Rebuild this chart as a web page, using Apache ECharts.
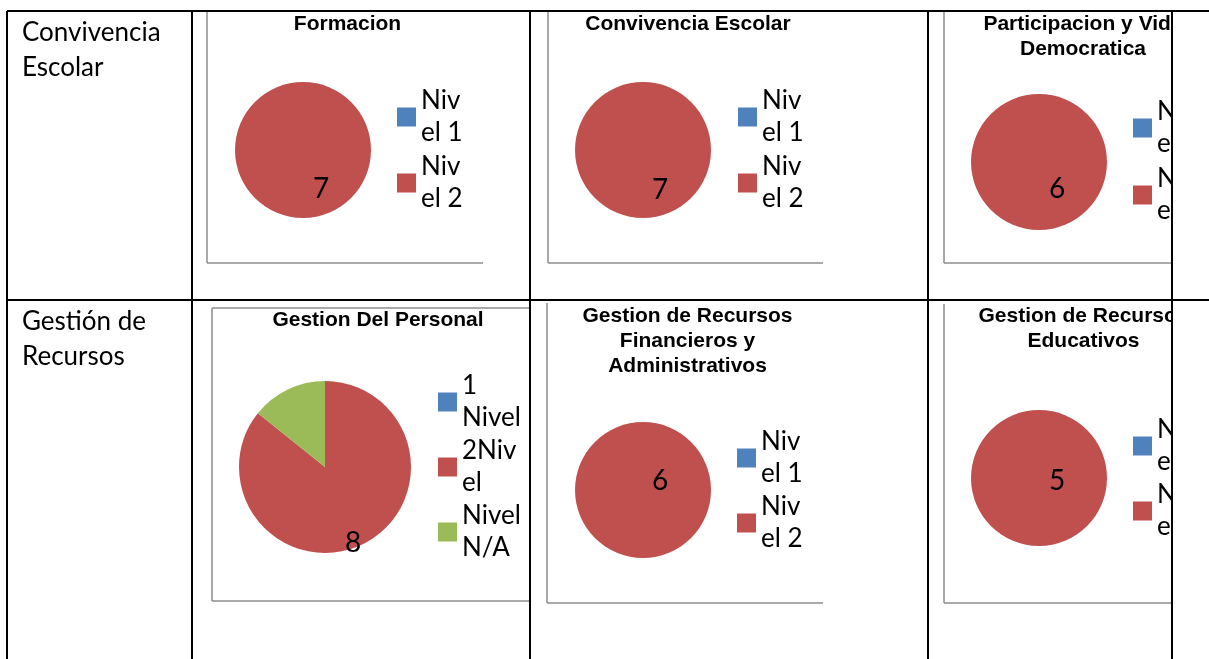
<!DOCTYPE html>
<html><head><meta charset="utf-8">
<script src="https://cdn.jsdelivr.net/npm/echarts@6/dist/echarts.min.js"></script>
<style>html,body{margin:0;padding:0;background:#fff;overflow:hidden;} #c{width:1209px;height:659px;}</style>
</head><body><div id="c"></div>
<script>
// ---- data ----
const rowLabels = ['Convivencia\nEscolar', 'Gestión de\nRecursos'];
const chartTitles = ['Formacion', 'Convivencia Escolar', 'Participacion y Vida\nDemocratica',
  'Gestion Del Personal', 'Gestion de Recursos\nFinancieros y\nAdministrativos', 'Gestion de Recursos\nEducativos'];
const levelCats = ['Nivel 1', 'Nivel 2'];
const levelCatsWrapped = ['Niv\nel 1', 'Niv\nel 2'];
const personalCats = ['1 Nivel', '2Nivel', 'Nivel N/A'];
const personalCatsWrapped = ['1\nNivel', '2Niv\nel', 'Nivel\nN/A'];
const formacionValues = [0, 7];
const convivenciaValues = [0, 7];
const participacionValues = [0, 6];
const personalValues = [0, 8, 1.33];
const financierosValues = [0, 6];
const educativosValues = [0, 5];
const sliceColors = ['#4F81BD', '#C0504D', '#9BBB59'];

// ---- layout (positions / styles only) ----
const panels = [
  {cats: levelCats, wrapped: levelCatsWrapped, vals: formacionValues, center: [303, 150], r: 68, titleX: 347.5, titleY: 12, legX: 397, legY: 85, legGap: 2, lab: [18, 39]},
  {cats: levelCats, wrapped: levelCatsWrapped, vals: convivenciaValues, center: [643, 150], r: 68, titleX: 688, titleY: 12, legX: 738, legY: 85, legGap: 2, lab: [17, 40]},
  {cats: levelCats, wrapped: levelCatsWrapped, vals: participacionValues, center: [1039, 162], r: 68, titleX: 1083, titleY: 12, legX: 1133, legY: 96, legGap: 3, lab: [18, 27]},
  {cats: personalCats, wrapped: personalCatsWrapped, vals: personalValues, center: [325, 467], r: 86, titleX: 378, titleY: 307.5, legX: 438, legY: 370, legGap: 1, lab: [28, 76]},
  {cats: levelCats, wrapped: levelCatsWrapped, vals: financierosValues, center: [643, 490], r: 68, titleX: 687.5, titleY: 303.5, legX: 737, legY: 426, legGap: 1, lab: [17, -9]},
  {cats: levelCats, wrapped: levelCatsWrapped, vals: educativosValues, center: [1039, 478], r: 68, titleX: 1083.5, titleY: 304, legX: 1133, legY: 414, legGap: 1, lab: [18, 3]}
];
const legendTextShift = 6; // top padding for legend text (moves text down by half of it)

const tableLines = [
  [7, 11, 1209, 11], [7, 300, 1209, 300],
  [7, 11, 7, 659], [192, 11, 192, 659], [530, 11, 530, 659], [928, 11, 928, 659], [1172, 11, 1172, 659]
];
const frameLines = [
  [207, 11, 207, 263], [207, 263, 483, 263],
  [548, 11, 548, 263], [548, 263, 823, 263],
  [944, 11, 944, 263], [944, 263, 1172, 263],
  [212, 308, 212, 601], [212, 308, 530, 308], [212, 601, 530, 601],
  [547, 303, 547, 603], [547, 603, 823, 603],
  [944, 304, 944, 603], [944, 603, 1172, 603]
];

const graphics = [];
frameLines.forEach(l => graphics.push({type: 'line', z: 1, shape: {x1: l[0], y1: l[1], x2: l[2], y2: l[3]}, style: {stroke: '#8c8c8c', lineWidth: 1.5}}));
graphics.push({type: 'rect', z: 50, shape: {x: 1173, y: 12, width: 40, height: 650}, style: {fill: '#fff'}});
tableLines.forEach(l => graphics.push({type: 'line', z: 60, shape: {x1: l[0], y1: l[1], x2: l[2], y2: l[3]}, style: {stroke: '#000', lineWidth: 2}}));
[[22, 15], [22, 304]].forEach((p, i) => graphics.push({type: 'text', z: 60, x: p[0], y: p[1],
  style: {text: rowLabels[i], fill: '#000', font: '26px Lato', lineHeight: 35, textVerticalAlign: 'top'}}));

const titles = panels.map((p, i) => ({
  text: chartTitles[i], left: p.titleX, top: p.titleY, textAlign: 'center', textVerticalAlign: 'top', padding: 0,
  textStyle: {fontFamily: 'Liberation Sans', fontWeight: 'bold', fontSize: 21, lineHeight: 25, color: '#000'}
}));

const legends = panels.map(p => ({
  orient: 'vertical', left: p.legX, top: p.legY - legendTextShift / 2, padding: 0, itemWidth: 19, itemHeight: 19,
  itemGap: p.legGap - legendTextShift,
  icon: 'rect', selectedMode: false, data: p.cats,
  itemStyle: {borderWidth: 0},
  formatter: name => p.wrapped[p.cats.indexOf(name)],
  textStyle: {fontFamily: 'Lato', fontSize: 26, lineHeight: 32, color: '#000', padding: [legendTextShift, 0, 0, 0]}
}));

const series = panels.map(p => ({
  type: 'pie', center: p.center, radius: p.r, startAngle: 90, clockwise: true,
  silent: true, animation: false,
  labelLine: {show: false},
  label: {position: 'center', formatter: '{c}', fontFamily: 'Lato', fontSize: 28, color: '#000'},
  labelLayout: {dx: p.lab[0], dy: p.lab[1]},
  data: p.cats.map((n, i) => ({
    name: n, value: p.vals[i],
    label: {show: i === 1},
    itemStyle: {color: sliceColors[i], borderWidth: 0}
  }))
}));

const chart = echarts.init(document.getElementById('c'));
chart.setOption({
  animation: false,
  backgroundColor: '#fff',
  title: titles,
  legend: legends,
  series: series,
  graphic: graphics
});
</script>
</body></html>
